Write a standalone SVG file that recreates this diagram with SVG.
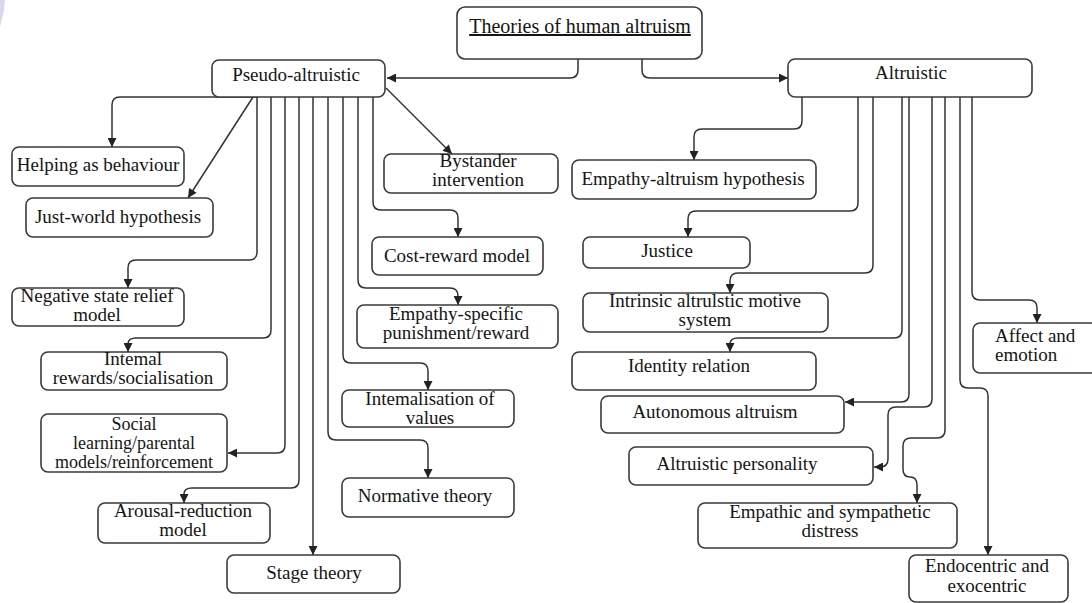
<svg xmlns="http://www.w3.org/2000/svg" width="1092" height="603" viewBox="0 0 1092 603">
<style>
.box{fill:#fff;stroke:#3a3a3a;stroke-width:1.6}
.t{font-family:"Liberation Serif","Times New Roman",serif;font-size:19px;fill:#151515;text-anchor:middle}
.ts{text-anchor:start}
.sm{font-size:18px}
.e{fill:none;stroke:#333;stroke-width:1.5;marker-end:url(#arr)}
</style>
<defs>
<marker id="arr" viewBox="0 0 10 10" refX="10" refY="5" markerUnits="userSpaceOnUse" markerWidth="10" markerHeight="9" orient="auto">
<path d="M0,0 L10,5 L0,10 z" fill="#222"/>
</marker>
</defs>
<rect width="1092" height="603" fill="#fff"/>
<polygon points="0,0 5,0 4,10 0,27" fill="#d9d7ef"/>

<g id="connectors">
<path class="e" d="M 578 59 V 70 Q 578 78 570 78 H 387"/>
<path class="e" d="M 642 59 V 70 Q 642 78 650 78 H 788"/>
<path class="e" d="M 258 97 H 120 Q 112 97 112 105 V 147"/>
<path class="e" d="M 253 97 L 188 198"/>
<path class="e" d="M 386 88 L 452 154"/>
<path class="e" d="M 257 97 V 252 Q 257 260 249 260 H 136 Q 128 260 128 268 V 288"/>
<path class="e" d="M 271 97 V 330 Q 271 338 263 338 H 136 Q 128 338 128 344 V 352"/>
<path class="e" d="M 285 97 V 445 Q 285 453 277 453 H 228"/>
<path class="e" d="M 299 97 V 480 Q 299 488 291 488 H 192 Q 184 488 184 494 V 503"/>
<path class="e" d="M 313 97 V 555"/>
<path class="e" d="M 328 97 V 432 Q 328 440 336 440 H 420 Q 428 440 428 448 V 478"/>
<path class="e" d="M 343 97 V 355 Q 343 363 351 363 H 420 Q 428 363 428 371 V 390"/>
<path class="e" d="M 358 97 V 280 Q 358 288 366 288 H 450 Q 458 288 458 296 V 305"/>
<path class="e" d="M 373 97 V 202 Q 373 210 381 210 H 450 Q 458 210 458 218 V 237"/>
<path class="e" d="M 802 97 V 121 Q 802 129 794 129 H 702 Q 694 129 694 137 V 160"/>
<path class="e" d="M 858 97 V 203 Q 858 211 850 211 H 696 Q 688 211 688 219 V 237"/>
<path class="e" d="M 873 97 V 265 Q 873 273 865 273 H 738 Q 730 273 730 281 V 293"/>
<path class="e" d="M 902 97 V 330 Q 902 338 894 338 H 738 Q 730 338 730 344 V 352"/>
<path class="e" d="M 909 97 V 394 Q 909 402 901 402 H 845"/>
<path class="e" d="M 932 97 V 399 Q 932 407 924 407 H 896 Q 888 407 888 415 V 459 Q 888 467 880 467 H 874"/>
<path class="e" d="M 945 97 V 430 Q 945 438 937 438 H 911 Q 903 438 903 446 V 469 Q 903 477 910 477 Q 917 477 917 485 V 503"/>
<path class="e" d="M 960 97 V 380 Q 960 388 968 388 H 980 Q 988 388 988 396 V 555"/>
<path class="e" d="M 972 97 V 292 Q 972 300 980 300 H 1029 Q 1037 300 1037 308 V 323"/>
</g>

<g id="root"><rect class="box" x="457" y="7" width="245" height="52" rx="8"/><text class="t" x="580" y="33" style="font-size:20px;text-decoration:underline">Theories of human altruism</text></g>
<g id="pseudo"><rect class="box" x="212" y="60" width="173" height="37" rx="7"/><text class="t" x="296" y="81">Pseudo-altruistic</text></g>
<g id="altruistic"><rect class="box" x="788" y="59" width="244" height="38" rx="7"/><text class="t" x="911" y="79">Altruistic</text></g>

<g id="helping"><rect class="box" x="12" y="147" width="172" height="39" rx="7"/><text class="t" x="98" y="171">Helping as behaviour</text></g>
<g id="justworld"><rect class="box" x="26" y="198" width="187" height="39" rx="7"/><text class="t" x="118" y="223">Just-world hypothesis</text></g>
<g id="bystander"><rect class="box" x="384" y="154" width="174" height="39" rx="7"/><text class="t" x="478" y="167">Bystander</text><text class="t" x="478" y="186">intervention</text></g>
<g id="costreward"><rect class="box" x="372" y="237" width="171" height="38" rx="7"/><text class="t" x="457" y="262">Cost-reward model</text></g>
<g id="empathyspecific"><rect class="box" x="357" y="305" width="201" height="43" rx="7"/><text class="t" x="456" y="320">Empathy-specific</text><text class="t" x="456" y="339">punishment/reward</text></g>
<g id="internalisation"><rect class="box" x="342" y="390" width="172" height="37" rx="7"/><text class="t" x="430" y="405">Intemalisation of</text><text class="t" x="430" y="424">values</text></g>
<g id="normative"><rect class="box" x="342" y="478" width="172" height="39" rx="7"/><text class="t" x="425" y="502">Normative theory</text></g>
<g id="stage"><rect class="box" x="227" y="555" width="173" height="38" rx="7"/><text class="t" x="314" y="579">Stage theory</text></g>
<g id="negative"><rect class="box" x="12" y="288" width="172" height="38" rx="7"/><text class="t" x="97" y="302">Negative state relief</text><text class="t" x="97" y="321">model</text></g>
<g id="internal"><rect class="box" x="41" y="352" width="186" height="38" rx="7"/><text class="t" x="133" y="365">Intemal</text><text class="t" x="133" y="384">rewards/socialisation</text></g>
<g id="social"><rect class="box" x="41" y="414" width="186" height="58" rx="7"/><text class="t sm" x="134" y="430">Social</text><text class="t sm" x="134" y="449">learning/parental</text><text class="t sm" x="134" y="468">models/reinforcement</text></g>
<g id="arousal"><rect class="box" x="98" y="503" width="172" height="40" rx="7"/><text class="t" x="183" y="517">Arousal-reduction</text><text class="t" x="183" y="536">model</text></g>

<g id="empathyaltruism"><rect class="box" x="572" y="160" width="244" height="39" rx="7"/><text class="t" x="693" y="185">Empathy-altruism hypothesis</text></g>
<g id="justice"><rect class="box" x="583" y="237" width="167" height="31" rx="7"/><text class="t" x="667" y="257">Justice</text></g>
<g id="intrinsic"><rect class="box" x="583" y="293" width="245" height="39" rx="7"/><text class="t" x="705" y="307">Intrinsic altrulstic motive</text><text class="t" x="705" y="326">system</text></g>
<g id="identity"><rect class="box" x="572" y="352" width="244" height="38" rx="7"/><text class="t" x="689" y="372">Identity relation</text></g>
<g id="autonomous"><rect class="box" x="601" y="396" width="243" height="37" rx="7"/><text class="t" x="715" y="418">Autonomous altruism</text></g>
<g id="personality"><rect class="box" x="629" y="447" width="244" height="38" rx="7"/><text class="t" x="737" y="470">Altruistic personality</text></g>
<g id="empathic"><rect class="box" x="698" y="503" width="259" height="45" rx="7"/><text class="t" x="830" y="518">Empathic and sympathetic</text><text class="t" x="830" y="537">distress</text></g>
<g id="endocentric"><rect class="box" x="909" y="555" width="159" height="47" rx="7"/><text class="t" x="987" y="572">Endocentric and</text><text class="t" x="987" y="592">exocentric</text></g>
<g id="affect"><rect class="box" x="973" y="323" width="130" height="50" rx="7"/><text class="t ts" x="995" y="342">Affect and</text><text class="t ts" x="995" y="361">emotion</text></g>
</svg>
